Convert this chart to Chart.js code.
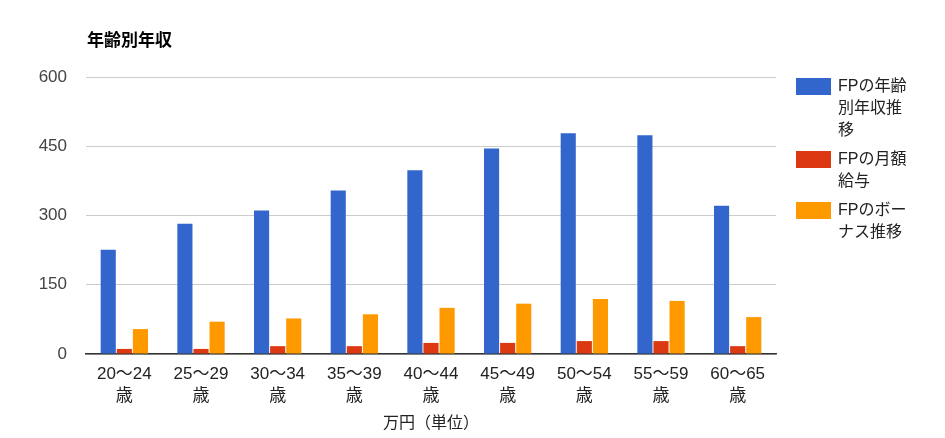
<!DOCTYPE html>
<html>
<head>
<meta charset="utf-8">
<script src="https://cdn.jsdelivr.net/npm/chart.js@4"></script>
<style>
  html, body { margin: 0; padding: 0; background: #fff; }
  #wrap { width: 945px; height: 438px; position: relative; }
</style>
</head>
<body>
<div id="wrap"><canvas id="incomeChart" width="945" height="438"></canvas></div>
<script>
const categories = ['20〜24', '25〜29', '30〜34', '35〜39', '40〜44', '45〜49', '50〜54', '55〜59', '60〜65'];
const annualIncome = [226, 282, 311, 354, 398, 445, 478, 474, 321];
const monthlyPay = [11, 11, 17, 17, 24, 24, 28, 28, 17];
const bonus = [54, 70, 77, 86, 100, 109, 119, 115, 80];
const yTicks = [0, 150, 300, 450, 600];
const seriesNames = ['FPの年齢別年収推移', 'FPの月額給与', 'FPのボーナス推移'];
const legendLines = [['FPの年齢', '別年収推', '移'], ['FPの月額', '給与'], ['FPのボー', 'ナス推移']];
const colors = ['#3366CC', '#DC3912', '#FF9900'];

const FONT = '"Liberation Sans", Arial, "Noto Sans CJK JP", sans-serif';

// title + wrapped legend, drawn like the google chart
const sideBits = {
    id: 'sideBits',
    afterDraw(chart) {
        const c = chart.ctx;
        c.save();
        c.fillStyle = '#000';
        c.font = 'bold 17px ' + FONT;
        c.textBaseline = 'middle';
        c.textAlign = 'left';
        c.fillText('年齢別年収', 87, 41);

        c.font = '16px ' + FONT;
        let y = 78;
        legendLines.forEach((lines, i) => {
            c.fillStyle = colors[i];
            c.fillRect(796, y, 35, 17);
            c.fillStyle = '#222';
            lines.forEach((t, j) => c.fillText(t, 838, y + 9 + j * 22));
            y += lines.length * 22 + 7;
        });
        c.restore();
    }
};

const ctx = document.getElementById('incomeChart').getContext('2d');

new Chart(ctx, {
    type: 'bar',
    data: {
        labels: categories.map(c => [c, '歳']),
        datasets: [annualIncome, monthlyPay, bonus].map((d, i) => ({
            label: seriesNames[i],
            data: d,
            backgroundColor: colors[i],
            categoryPercentage: 0.63,
            barPercentage: 0.94
        }))
    },
    options: {
        responsive: false,
        animation: false,
        layout: { padding: { left: 0, right: 169, top: 77, bottom: 5 } },
        plugins: {
            legend: { display: false },
            tooltip: { enabled: false }
        },
        scales: {
            x: {
                afterFit: s => { s.height = 79; },
                grid: { display: false },
                border: { color: '#333', width: 1.5 },
                ticks: { color: '#222', font: { size: 17, family: FONT, lineHeight: 1.3 }, padding: 1, maxRotation: 0 },
                title: { display: true, text: '万円（単位）', color: '#222', font: { size: 16, family: FONT }, padding: { top: 0, bottom: 0 } }
            },
            y: {
                min: 0,
                max: 600,
                afterBuildTicks: s => { s.ticks = yTicks.map(v => ({ value: v })); },
                afterFit: s => { s.width = 86; },
                grid: { color: '#ccc', drawTicks: false },
                border: { display: false },
                ticks: { color: '#444', font: { size: 17, family: FONT }, padding: 19 }
            }
        }
    },
    plugins: [sideBits]
});
</script>
</body>
</html>
